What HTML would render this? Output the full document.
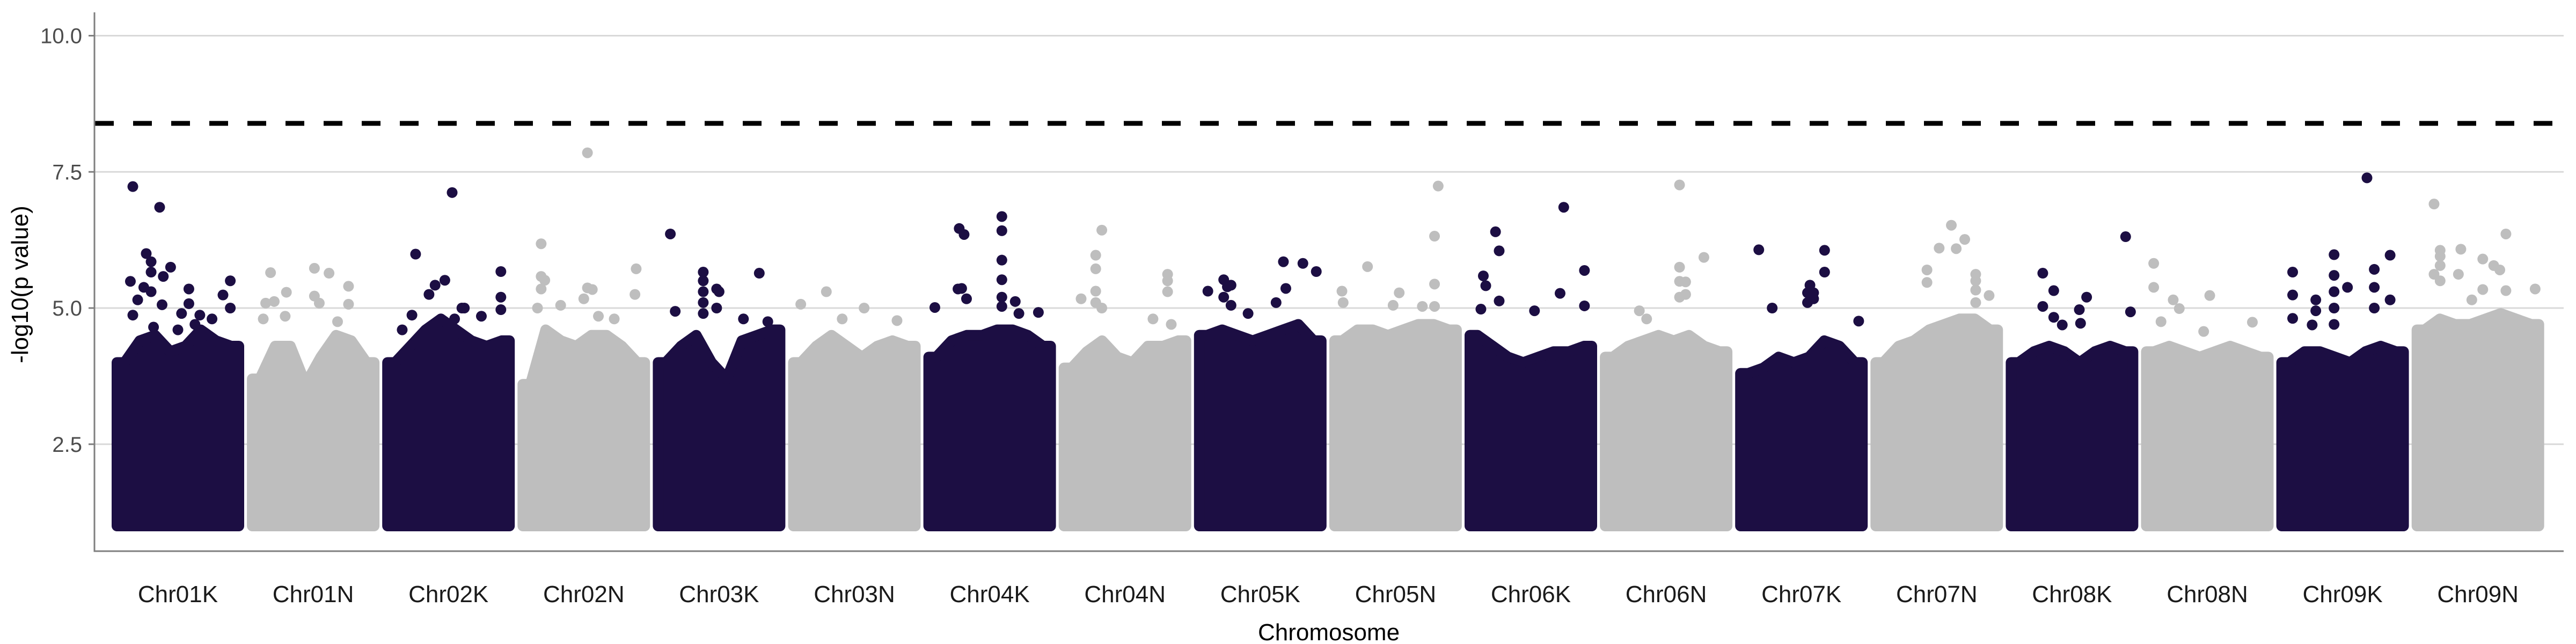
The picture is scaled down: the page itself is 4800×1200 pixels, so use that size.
<!DOCTYPE html>
<html><head><meta charset="utf-8"><style>
html,body{margin:0;padding:0;background:#fff;}
svg{display:block;font-family:"Liberation Sans",Arial,sans-serif;}
</style></head><body>
<svg id="chart" width="4800" height="1200" viewBox="0 0 4800 1200" xmlns="http://www.w3.org/2000/svg">
<g id="grid"></g>
<g id="bodies"></g>
<g id="points"></g>
<g id="thresh"></g>
<g id="axes"></g>
<text transform="translate(52,530) rotate(-90)" text-anchor="middle" font-size="44" fill="#000">-log10(p value)</text>
<text x="2476" y="1193" text-anchor="middle" font-size="44" fill="#000">Chromosome</text>
</svg>
<script>
const chromosomes = ["Chr01K","Chr01N","Chr02K","Chr02N","Chr03K","Chr03N","Chr04K","Chr04N","Chr05K","Chr05N","Chr06K","Chr06N","Chr07K","Chr07N","Chr08K","Chr08N","Chr09K","Chr09N"];
const yTicks = [2.5, 5.0, 7.5, 10.0];
const yTickLabels = ["2.5","5.0","7.5","10.0"];
const threshold = 8.39;
const minValue = 1.0;
// top of dense mass per chromosome (8 bins across the chromosome)
const bodyTops = [
[4.0,4.4,4.5,4.2,4.3,4.6,4.4,4.3],
[3.7,4.3,4.3,3.6,4.1,4.5,4.4,4.0],
[4.0,4.3,4.6,4.8,4.6,4.4,4.3,4.4],
[3.6,4.6,4.4,4.3,4.5,4.5,4.3,4.0],
[4.0,4.3,4.5,4.0,3.7,4.4,4.5,4.6],
[4.0,4.3,4.5,4.3,4.1,4.3,4.4,4.3],
[4.1,4.4,4.5,4.5,4.6,4.6,4.5,4.3],
[3.9,4.2,4.4,4.1,4.0,4.3,4.3,4.4],
[4.5,4.6,4.5,4.4,4.5,4.6,4.7,4.4],
[4.4,4.6,4.6,4.5,4.6,4.7,4.7,4.6],
[4.5,4.3,4.1,4.0,4.1,4.2,4.2,4.3],
[4.1,4.3,4.4,4.5,4.4,4.5,4.3,4.2],
[3.8,3.9,4.1,4.0,4.1,4.4,4.3,4.0],
[4.0,4.3,4.4,4.6,4.7,4.8,4.8,4.6],
[4.0,4.2,4.3,4.2,4.0,4.2,4.3,4.2],
[4.2,4.3,4.2,4.1,4.2,4.3,4.2,4.1],
[4.0,4.2,4.2,4.1,4.0,4.2,4.3,4.2],
[4.6,4.8,4.7,4.7,4.8,4.9,4.8,4.7]
];
// outlier SNPs: [chromosome index, relative position 0-1, -log10 p]
const outliers = [
[0,.13,7.23],[0,.35,6.85],[0,.24,6.0],[0,.28,5.85],[0,.28,5.66],[0,.44,5.75],[0,.38,5.58],[0,.11,5.49],[0,.93,5.5],[0,.22,5.38],[0,.28,5.3],[0,.59,5.35],[0,.87,5.24],[0,.17,5.15],[0,.37,5.06],[0,.59,5.08],[0,.13,4.87],[0,.53,4.9],[0,.68,4.87],[0,.93,5.0],[0,.78,4.8],[0,.30,4.65],[0,.50,4.6],[0,.64,4.7],
[1,.15,5.65],[1,.51,5.73],[1,.63,5.64],[1,.79,5.4],[1,.28,5.29],[1,.51,5.22],[1,.11,5.09],[1,.55,5.09],[1,.79,5.07],[1,.18,5.12],[1,.09,4.8],[1,.27,4.85],[1,.70,4.75],
[2,.53,7.12],[2,.23,5.99],[2,.93,5.67],[2,.47,5.51],[2,.39,5.42],[2,.34,5.25],[2,.93,5.2],[2,.61,5.0],[2,.63,5.0],[2,.20,4.87],[2,.93,4.97],[2,.77,4.85],[2,.12,4.6],[2,.55,4.8],
[3,.53,7.85],[3,.15,6.18],[3,.93,5.72],[3,.15,5.58],[3,.18,5.51],[3,.15,5.35],[3,.92,5.25],[3,.53,5.37],[3,.57,5.34],[3,.31,5.05],[3,.12,5.0],[3,.50,5.17],[3,.62,4.85],[3,.75,4.8],
[4,.10,6.36],[4,.37,5.66],[4,.37,5.5],[4,.37,5.3],[4,.37,5.1],[4,.37,4.9],[4,.14,4.94],[4,.83,5.64],[4,.48,5.35],[4,.50,5.3],[4,.48,5.0],[4,.70,4.8],[4,.90,4.75],
[5,.27,5.3],[5,.06,5.07],[5,.58,5.0],[5,.85,4.77],[5,.40,4.8],
[6,.60,6.68],[6,.60,6.42],[6,.25,6.46],[6,.29,6.35],[6,.60,5.88],[6,.60,5.52],[6,.60,5.2],[6,.24,5.35],[6,.31,5.17],[6,.71,5.12],[6,.05,5.01],[6,.60,5.03],[6,.74,4.9],[6,.90,4.92],[6,.27,5.36],
[7,.31,6.43],[7,.26,5.97],[7,.26,5.72],[7,.26,5.31],[7,.85,5.62],[7,.85,5.5],[7,.85,5.3],[7,.14,5.17],[7,.31,5.0],[7,.73,4.8],[7,.88,4.7],[7,.26,5.1],
[8,.07,5.31],[8,.20,5.52],[8,.23,5.39],[8,.26,5.42],[8,.20,5.2],[8,.26,5.05],[8,.69,5.85],[8,.85,5.82],[8,.96,5.67],[8,.71,5.36],[8,.63,5.1],[8,.40,4.9],
[9,.85,7.24],[9,.82,6.32],[9,.27,5.76],[9,.82,5.44],[9,.06,5.31],[9,.53,5.28],[9,.07,5.1],[9,.48,5.05],[9,.72,5.03],[9,.82,5.03],
[10,.77,6.85],[10,.21,6.4],[10,.24,6.05],[10,.94,5.69],[10,.11,5.59],[10,.13,5.41],[10,.74,5.27],[10,.24,5.13],[10,.94,5.04],[10,.09,4.98],[10,.53,4.95],
[11,.61,7.26],[11,.81,5.93],[11,.61,5.75],[11,.61,5.49],[11,.66,5.48],[11,.66,5.25],[11,.61,5.2],[11,.28,4.95],[11,.34,4.8],
[12,.15,6.07],[12,.69,6.06],[12,.69,5.66],[12,.57,5.42],[12,.55,5.28],[12,.60,5.28],[12,.60,5.17],[12,.55,5.1],[12,.26,5.0],[12,.97,4.76],
[13,.62,6.52],[13,.73,6.26],[13,.66,6.09],[13,.52,6.1],[13,.82,5.62],[13,.82,5.5],[13,.82,5.33],[13,.93,5.23],[13,.82,5.1],[13,.42,5.7],[13,.42,5.47],
[14,.94,6.31],[14,.26,5.64],[14,.35,5.32],[14,.62,5.2],[14,.26,5.03],[14,.56,4.97],[14,.98,4.93],[14,.35,4.83],[14,.42,4.69],[14,.57,4.72],
[15,.06,5.82],[15,.06,5.38],[15,.22,5.15],[15,.52,5.23],[15,.27,4.99],[15,.12,4.75],[15,.87,4.74],[15,.47,4.57],
[16,.70,7.39],[16,.43,5.98],[16,.89,5.97],[16,.09,5.66],[16,.76,5.71],[16,.43,5.6],[16,.43,5.3],[16,.43,5.0],[16,.43,4.7],[16,.09,5.24],[16,.54,5.38],[16,.76,5.38],[16,.89,5.15],[16,.28,5.15],[16,.76,5.0],[16,.28,4.95],[16,.09,4.81],[16,.25,4.69],
[17,.14,6.91],[17,.73,6.36],[17,.36,6.08],[17,.19,6.06],[17,.19,5.95],[17,.19,5.78],[17,.54,5.9],[17,.63,5.78],[17,.68,5.7],[17,.14,5.62],[17,.34,5.62],[17,.97,5.35],[17,.19,5.5],[17,.54,5.34],[17,.73,5.32],[17,.45,5.15]
];

const NS='http://www.w3.org/2000/svg';
const plotL=176, plotR=4777, plotT=23, plotB=1027;
const blockStart=208, blockStep=252.1, blockW=247, R=10;
const DARK='#1c0e43', GREY='#bebebe';
function yScale(v){return 574-(v-5)*101.5;}
function xScale(ci,rel){return blockStart+ci*blockStep+R+rel*(blockW-2*R);}
function mk(tag,attrs,parent){const e=document.createElementNS(NS,tag);for(const k in attrs)e.setAttribute(k,attrs[k]);parent.appendChild(e);return e;}
const grid=document.getElementById('grid'), axes=document.getElementById('axes');
yTicks.forEach((t,i)=>{
  const y=yScale(t);
  const g=mk('line',{x1:plotL,x2:plotR,y1:y,y2:y,stroke:'#d9d9d9','stroke-width':3},grid);
  
  
  const tk=mk('line',{x1:plotL-11,x2:plotL,y1:y,y2:y,stroke:'#7f7f7f','stroke-width':3},axes);
  
  
  const tx=mk('text',{x:153,y:y+14,'text-anchor':'end','font-size':40,fill:'#4d4d4d'},axes);
  
  
  tx.textContent=yTickLabels[i];
});
const al=mk('line',{x1:plotL,x2:plotL,y1:plotT,y2:plotB,stroke:'#7f7f7f','stroke-width':3},axes);


const bl=mk('line',{x1:plotL-1.5,x2:plotR,y1:plotB,y2:plotB,stroke:'#7f7f7f','stroke-width':3},axes);


chromosomes.forEach((c,ci)=>{
  const tx=mk('text',{x:xScale(ci,0.5),y:1122,'text-anchor':'middle','font-size':44,fill:'#1a1a1a'},axes);
  
  
  tx.textContent=c;
});
const bodies=document.getElementById('bodies');
bodyTops.forEach((tops,ci)=>{
  const col=ci%2===0?DARK:GREY;
  const n=tops.length;
  let pts=[[xScale(ci,0),yScale(minValue)],[xScale(ci,0),yScale(tops[0])]];
  tops.forEach((v,i)=>{
    pts.push([xScale(ci,(i+0.5)/n),yScale(v)]);
  });
  pts.push([xScale(ci,1),yScale(tops[n-1])]);
  pts.push([xScale(ci,1),yScale(minValue)]);
  const p=mk('polygon',{points:pts.map(q=>q.join(',')).join(' '),fill:col,stroke:col,'stroke-width':2*R,'stroke-linejoin':'round'},bodies);
  
  
});
const pg=document.getElementById('points');
outliers.forEach(o=>{
  const col=o[0]%2===0?DARK:GREY;
  const c=mk('circle',{cx:xScale(o[0],o[1]),cy:yScale(o[2]),r:R,fill:col},pg);
  
  
});
const th=mk('line',{x1:plotL+1,x2:plotR,y1:yScale(threshold),y2:yScale(threshold),stroke:'#000','stroke-width':9,'stroke-dasharray':'35 36'},document.getElementById('thresh'));


</script>
</body></html>
